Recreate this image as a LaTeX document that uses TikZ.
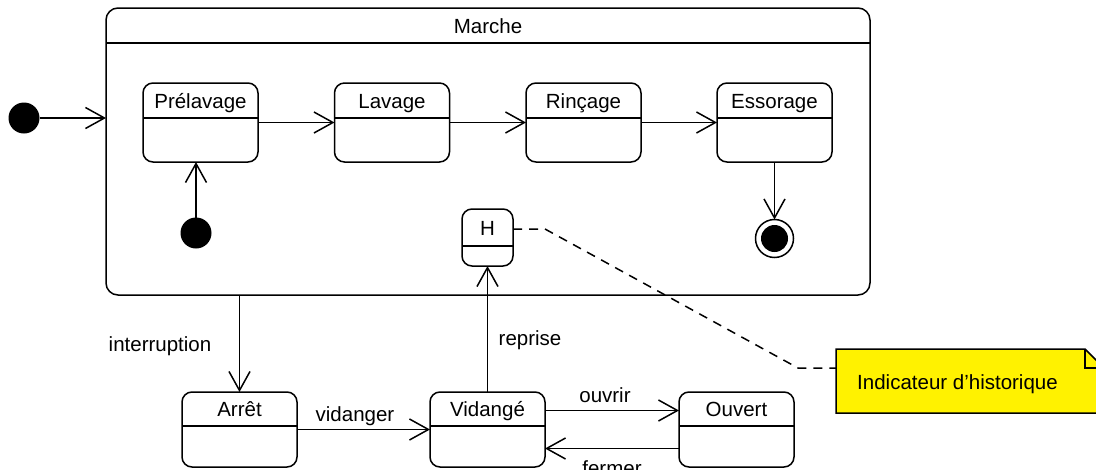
\documentclass[tikz,border=0pt]{standalone}
\usepackage{fontspec}
\setmainfont{Liberation Sans}
\usetikzlibrary{arrows.meta}
\begin{document}
\begin{tikzpicture}[x=1pt,y=-1pt,
  every node/.style={font=\fontsize{20.5}{24}\selectfont, inner sep=0pt, outer sep=0pt},
  ln/.style={line width=1.5pt},
  tr/.style={ln, -{Straight Barb[length=19pt,width=21pt,line width=1.5pt]}},
  stbox/.style={draw, line width=1.5pt, rounded corners=10pt, minimum width=115pt, minimum height=79pt},
  lowbox/.style={stbox, minimum height=75pt},
  dot/.style={circle, fill=black, minimum size=31pt},
  lbl/.style={anchor=base},
  notelink/.style={line width=1.5pt, dash pattern=on 9pt off 7pt}
]
\useasboundingbox (0,0) rectangle (1096,469);

% composite state
\node[draw, line width=1.5pt, rounded corners=12pt, minimum width=764pt, minimum height=287pt] (marche) at (488,151.5) {};
\draw[ln] ([yshift=-35pt]marche.north west) -- ([yshift=-35pt]marche.north east);
\node[lbl] (marchet) at (488,33) {Marche};

% inner states
\node[stbox] (pre) at (200.5,122.5) {};
\node[stbox] (lav) at (392,122.5) {};
\node[stbox] (rin) at (583.5,122.5) {};
\node[stbox] (ess) at (774.5,122.5) {};
\foreach \n/\t in {pre/Prélavage, lav/Lavage, rin/Rinçage, ess/Essorage}{
  \draw[ln] ([yshift=-35pt]\n.north west) -- ([yshift=-35pt]\n.north east);
  \node[lbl] (\n t) at ([yshift=-25pt]\n.north) {\t};
}

% history state
\node[draw, line width=1.5pt, rounded corners=10pt, minimum width=51pt, minimum height=57pt] (H) at (487.5,237.5) {};
\draw[ln] ([yshift=-37pt]H.north west) -- ([yshift=-37pt]H.north east);
\node[lbl] (Ht) at ([yshift=-26pt]H.north) {H};

% initial and final states
\node[dot] (init) at (24,118) {};
\node[dot] (init2) at (196,233) {};
\node[circle, draw, line width=1.5pt, minimum size=38pt] (fin) at (774.5,238.5) {};
\node[circle, fill=black, minimum size=27pt] (finin) at (fin) {};

% lower states
\node[lowbox] (arret) at (239.5,429.5) {};
\node[lowbox] (vid) at (487.5,429.5) {};
\node[lowbox] (ouv) at (736.5,429.5) {};
\foreach \n/\t in {arret/Arrêt, vid/Vidangé, ouv/Ouvert}{
  \draw[ln] ([yshift=-34pt]\n.north west) -- ([yshift=-34pt]\n.north east);
  \node[lbl] (\n t) at ([yshift=-24pt]\n.north) {\t};
}

% note
\node[minimum width=268pt, minimum height=64pt] (note) at (970,381) {};
\fill[yellow] (note.north west) -- ([xshift=-19pt]note.north east) -- ([yshift=-19pt]note.north east) -- (note.south east) -- (note.south west) -- cycle;
\draw[ln] (note.north west) -- ([xshift=-19pt]note.north east) -- ([yshift=-19pt]note.north east) -- (note.south east) -- (note.south west) -- cycle;
\draw[ln] ([xshift=-19pt]note.north east) -- ([xshift=-19pt,yshift=-19pt]note.north east) -- ([yshift=-19pt]note.north east);
\node[lbl] (notet) at (957.5,389) {Indicateur d’historique};

% transitions
\draw[tr] (init) -- (marche.west |- init);
\draw[tr] (pre.east) -- (lav.west);
\draw[tr] (lav.east) -- (rin.west);
\draw[tr] (rin.east) -- (ess.west);
\draw[tr] (init2) -- (init2 |- pre.south);
\draw[tr] (ess.south) -- (fin.north);
\draw[tr] (arret.north |- marche.south) -- (arret.north);
\draw[tr] (arret.east) -- (vid.west);
\draw[tr] (vid.north) -- (H.south);
\draw[tr] ([yshift=19pt]vid.east) -- ([yshift=19pt]ouv.west);
\draw[tr] ([yshift=-19pt]ouv.west) -- ([yshift=-19pt]vid.east);

% note link
\coordinate (bend1) at (545,229);
\coordinate (bend2) at (798,368);
\draw[notelink] ([yshift=8.5pt]H.east) -- (bend1) -- (bend2) -- ([yshift=13pt]note.west);

% labels
\node[lbl] (l1) at (160,351) {interruption};
\node[lbl] (l2) at (355,421.5) {vidanger};
\node[lbl] (l3) at (530,345) {reprise};
\node[lbl] (l4) at (605,402.5) {ouvrir};
\node[lbl] (l5) at (612,475) {fermer};
\end{tikzpicture}
\end{document}
